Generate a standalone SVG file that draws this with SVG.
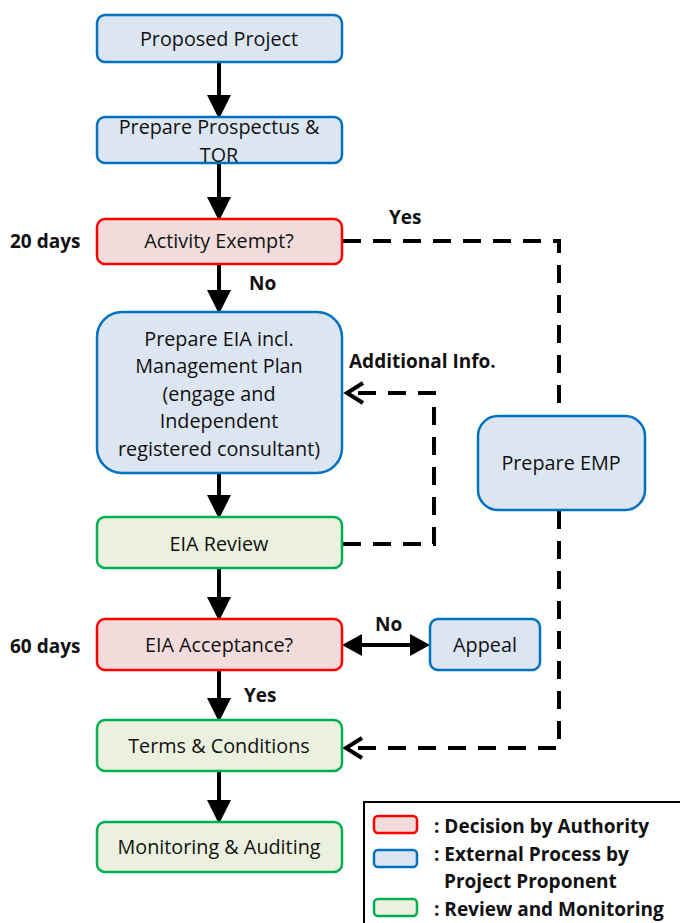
<svg xmlns="http://www.w3.org/2000/svg" width="680" height="923" viewBox="0 0 680 923">
<style>
.b{fill:#DCE6F2;stroke:#0070C0;stroke-width:2.5}
.r{fill:#F2DCDB;stroke:#FF0000;stroke-width:2.5}
.g{fill:#EBF1DE;stroke:#00B050;stroke-width:2.5}
.t{font-family:"Open Sans","Liberation Sans",sans-serif;font-size:19.8px;fill:#111;text-anchor:middle}
.l{font-family:"Open Sans","Liberation Sans",sans-serif;font-size:19px;font-weight:bold;fill:#111}
.s{stroke:#000;stroke-width:4;fill:none}
.d{stroke:#000;stroke-width:4;fill:none;stroke-dasharray:18,12}
</style>
<defs>
<marker id="ah" markerWidth="6" markerHeight="6" refX="5" refY="3" orient="auto" markerUnits="strokeWidth"><path d="M0,0 L6,3 L0,6 Z" fill="#000"/></marker>
<marker id="oh" markerWidth="6" markerHeight="6" refX="5" refY="3" orient="auto" markerUnits="strokeWidth"><path d="M1,0.5 L5,3 L1,5.5" fill="none" stroke="#000" stroke-width="1"/></marker>
</defs>
<g id="connectors">
<line class="s" x1="219" y1="63" x2="219" y2="115" marker-end="url(#ah)"/>
<line class="s" x1="219" y1="164" x2="219" y2="217" marker-end="url(#ah)"/>
<line class="s" x1="219" y1="265" x2="219" y2="310" marker-end="url(#ah)"/>
<line class="s" x1="219" y1="474" x2="219" y2="515" marker-end="url(#ah)"/>
<line class="s" x1="219" y1="569" x2="219" y2="617" marker-end="url(#ah)"/>
<line class="s" x1="219" y1="671" x2="219" y2="718" marker-end="url(#ah)"/>
<line class="s" x1="219" y1="772" x2="219" y2="820" marker-end="url(#ah)"/>
<line class="s" x1="360" y1="645" x2="412" y2="645"/>
<path d="M342,645 L362,634 L362,656 Z" fill="#000"/>
<path d="M430,645 L410,634 L410,656 Z" fill="#000"/>
<path class="d" d="M343,241 H559 V416"/>
<path class="d" d="M559,511 V748 H346" marker-end="url(#oh)"/>
<path class="d" d="M343,544 H434 V393 H347" marker-end="url(#oh)"/>
</g>
<g id="n1"><rect class="b" x="97" y="15" width="245" height="47" rx="8"/><text class="t" x="219" y="46">Proposed Project</text></g>
<g id="n2"><rect class="b" x="97" y="117" width="245" height="46" rx="8"/><text class="t" x="219" y="134">Prepare Prospectus &amp;</text><text class="t" x="219" y="162">TOR</text></g>
<g id="n3"><rect class="r" x="97" y="219" width="245" height="45" rx="8"/><text class="t" x="219" y="248">Activity Exempt?</text></g>
<g id="n4"><rect class="b" x="97" y="312" width="245" height="161" rx="25"/><text class="t" x="219" y="346">Prepare EIA incl.</text><text class="t" x="219" y="373">Management Plan</text><text class="t" x="219" y="401">(engage and</text><text class="t" x="219" y="428">Independent</text><text class="t" x="219" y="456">registered consultant)</text></g>
<g id="n5"><rect class="g" x="97" y="517" width="245" height="51" rx="8"/><text class="t" x="219" y="551">EIA Review</text></g>
<g id="n6"><rect class="r" x="97" y="619" width="245" height="51" rx="8"/><text class="t" x="219" y="652">EIA Acceptance?</text></g>
<g id="n7"><rect class="g" x="97" y="720" width="245" height="51" rx="8"/><text class="t" x="219" y="753">Terms &amp; Conditions</text></g>
<g id="n8"><rect class="g" x="97" y="822" width="245" height="50" rx="8"/><text class="t" x="219" y="854">Monitoring &amp; Auditing</text></g>
<g id="n9"><rect class="b" x="478" y="416" width="167" height="94" rx="20"/><text class="t" x="561" y="470">Prepare EMP</text></g>
<g id="n10"><rect class="b" x="430" y="619" width="110" height="51" rx="8"/><text class="t" x="485" y="652">Appeal</text></g>
<g id="labels">
<text class="l" x="10" y="248">20 days</text>
<text class="l" x="389" y="224">Yes</text>
<text class="l" x="249" y="290">No</text>
<text class="l" x="349" y="368">Additional Info.</text>
<text class="l" x="10" y="653">60 days</text>
<text class="l" x="375" y="631">No</text>
<text class="l" x="244" y="702">Yes</text>
</g>
<g id="legend">
<rect x="364" y="802" width="320" height="125" fill="#fff" stroke="#000" stroke-width="2"/>
<rect class="r" x="374" y="816" width="43" height="17" rx="4"/>
<rect class="b" x="374" y="850" width="43" height="17" rx="4"/>
<rect class="g" x="374" y="899" width="43" height="17" rx="4"/>
<text class="l" x="434" y="833">: Decision by Authority</text>
<text class="l" x="434" y="861">: External Process by</text>
<text class="l" x="444" y="888">Project Proponent</text>
<text class="l" x="434" y="916">: Review and Monitoring</text>
</g>
</svg>
